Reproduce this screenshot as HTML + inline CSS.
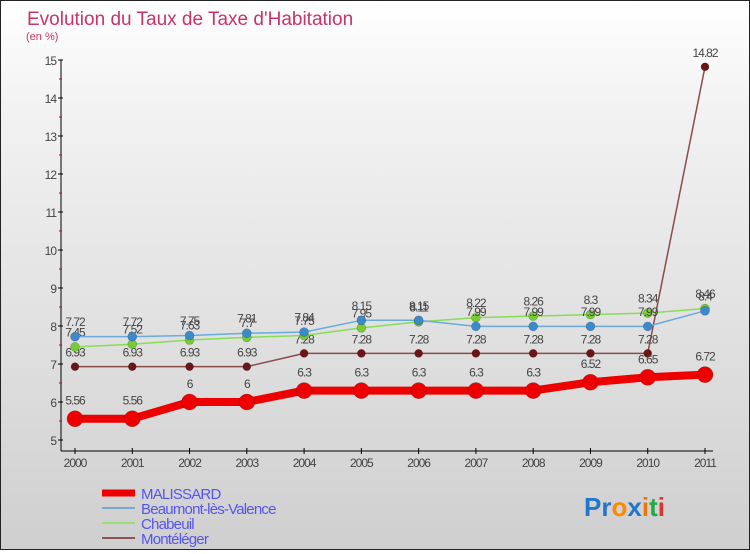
<!DOCTYPE html>
<html><head><meta charset="utf-8"><style>
html,body{margin:0;padding:0}
body{width:750px;height:550px;overflow:hidden;font-family:"Liberation Sans",sans-serif}
#wrap{position:relative;width:748px;height:548px;border:1px solid #222;background:linear-gradient(#fff,#f2f2f2 20%,#cfcfcf)}
</style></head><body>
<div id="wrap">
<svg id="chart" width="748" height="548" font-family="Liberation Sans, sans-serif"></svg>
</div>
<script>
const years=[2000,2001,2002,2003,2004,2005,2006,2007,2008,2009,2010,2011];
const yTicks=[5,6,7,8,9,10,11,12,13,14,15];
const malissard=[5.56,5.56,6,6,6.3,6.3,6.3,6.3,6.3,6.52,6.65,6.72];
const beaumont=[7.72,7.72,7.75,7.81,7.84,8.15,8.15,7.99,7.99,7.99,7.99,8.4];
const chabeuil=[7.45,7.52,7.63,7.7,7.75,7.95,8.11,8.22,8.26,8.3,8.34,8.46];
const monteleger=[6.93,6.93,6.93,6.93,7.28,7.28,7.28,7.28,7.28,7.28,7.28,14.82];
const seriesNames=["MALISSARD","Beaumont-lès-Valence","Chabeuil","Montéléger"];

const svg=document.getElementById('chart');
const NS='http://www.w3.org/2000/svg';
function X(i){return 74+i*(630/(years.length-1));}
function Y(v){return 439-38*(v-5);}
function mk(tag,attrs,parent){const e=document.createElementNS(NS,tag);for(const k in attrs)e.setAttribute(k,attrs[k]);(parent||svg).appendChild(e);return e;}

let t=mk('text',{x:26,y:24,'font-size':19,fill:'#c8336a'});t.textContent='Evolution du Taux de Taxe d\'Habitation';


t=mk('text',{x:25,y:39,'font-size':11,fill:'#c8336a'});t.textContent='(en %)';



// axes
let a=mk('line',{x1:60,y1:Y(15),x2:60,y2:450,stroke:'#000','stroke-width':1});


a=mk('line',{x1:60,y1:450,x2:712,y2:450,stroke:'#000','stroke-width':1});


yTicks.forEach(v=>{
  mk('line',{x1:57,y1:Y(v),x2:62,y2:Y(v),stroke:'#000'});
  if(v<15){mk('line',{x1:58,y1:Y(v+0.5),x2:61,y2:Y(v+0.5),stroke:'#d00'});}
  const l=mk('text',{x:55,y:Y(v)+5,'font-size':12,fill:'#444','text-anchor':'end','letter-spacing':'-1'});l.textContent=v;
  
  
});
years.forEach((yr,i)=>{
  mk('line',{x1:X(i),y1:447,x2:X(i),y2:453,stroke:'#000'});
  const l=mk('text',{x:X(i),y:466,'font-size':12,fill:'#444','text-anchor':'middle','letter-spacing':'-1'});l.textContent=yr;
  
  
});

function series(data,name,color,pt,w,r){
  const g=mk('g',{});
  
  
  const p=mk('polyline',{points:data.map((v,i)=>X(i)+','+Y(v)).join(' '),fill:'none',stroke:color,'stroke-width':w,'stroke-linejoin':'round'},g);
  
  
  data.forEach((v,i)=>{
    const c=mk('circle',{cx:X(i),cy:Y(v),r:r,fill:pt,stroke:'rgba(0,0,0,0.25)','stroke-width':0.6},g);
    
    
    const l=mk('text',{x:X(i),y:Y(v)-(r+6),'font-size':12,fill:'#444','text-anchor':'middle','letter-spacing':'-1'},g);
    l.textContent=v;
    
    
  });
}
series(monteleger,'monteleger','#8b4b4b','#6b1515',1.5,4);
series(chabeuil,'chabeuil','#88dd55','#77cc33',1.5,4.5);
series(beaumont,'beaumont','#6aaadd','#3a8acc',1.5,4.5);
series(malissard,'malissard','#ee0000','#ee0000',8,8);

// legend
const lc=['#ee0000','#77aacc','#99dd77','#8b5555'],lw=[7,2,2,2];
seriesNames.forEach((n,i)=>{
  const y=492+i*15;
  const ln=mk('line',{x1:101,y1:y,x2:134,y2:y,stroke:lc[i],'stroke-width':lw[i]});
  
  
  const tx=mk('text',{x:140,y:y+6,'font-size':15,fill:'#5555ee','letter-spacing':'-0.8'});tx.textContent=n;
  
  
});
// logo
const lg=mk('text',{x:583,y:515,'font-size':26,'font-weight':'bold','font-family':'Liberation Sans, sans-serif'});


[['Pr','#2277cc'],['o','#ff8800'],['x','#2277cc'],['i','#ee7700'],['t','#22aa44'],['i','#dd3333']].forEach(([s,c])=>{const ts=mk('tspan',{fill:c},lg);ts.textContent=s;});
</script>
</body></html>
